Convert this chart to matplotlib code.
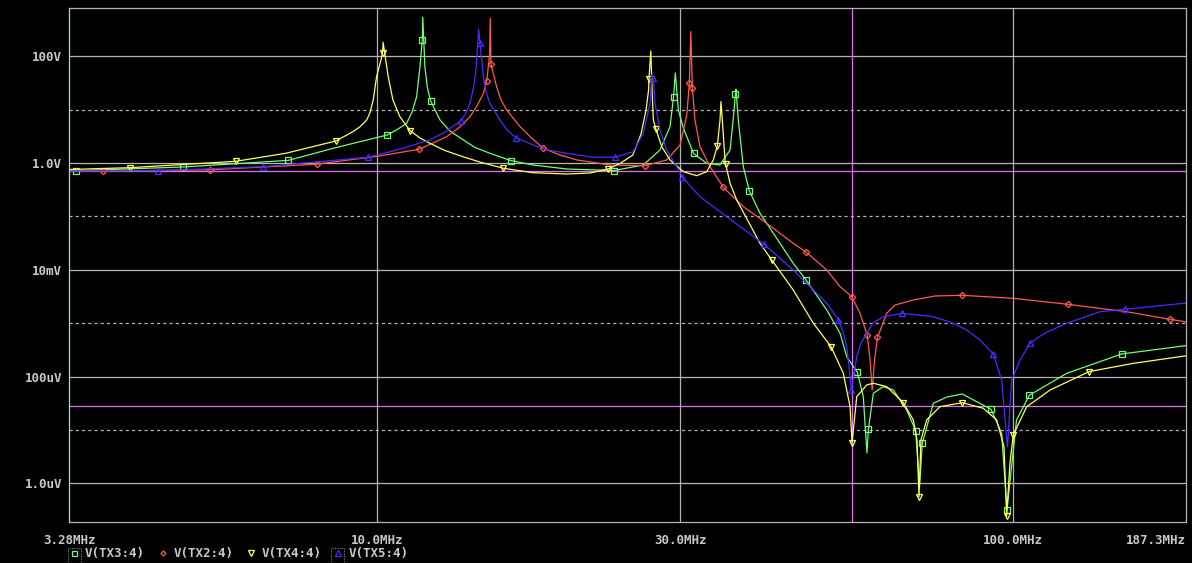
import numpy as np
import matplotlib
matplotlib.use("Agg")
import matplotlib.pyplot as plt
from matplotlib.lines import Line2D
from matplotlib.patches import Rectangle

# ---------------- data (frequency in MHz, voltage in V) ----------------
tx3_f = [3.28, 3.37, 4.96, 7.26, 8.53, 10.39, 10.80, 11.14, 11.36, 11.55, 11.69, 11.79, 11.81, 11.90,
         12.01, 12.15, 12.57, 13.03, 13.68, 14.27, 15.06, 16.24, 17.62, 19.89, 23.62, 26.24, 27.88, 28.91,
         29.28, 29.47, 29.80, 30.34, 31.48, 33.02, 34.64, 35.93, 36.36, 36.64, 36.71,
         37.02, 37.70, 38.52, 40.05, 42.03, 45.17, 47.31, 50.99, 53.52, 54.83, 56.98,
         58.21, 58.99, 59.31, 60.37, 62.60, 64.90, 68.12, 70.39, 71.36, 72.08, 75.01,
         78.82, 83.30, 92.44, 96.07, 97.95, 101.4, 106.2, 121.6, 148.4, 187.3]
tx3_v = [0.730, 0.717, 0.842, 1.12, 1.88, 3.35, 4.33, 5.54, 9.02, 17.4, 63.6, 199, 535, 63.6,
         25.4, 14.5, 6.39, 3.97, 2.70, 1.95, 1.52, 1.11, 0.917, 0.772, 0.723, 0.917, 1.75, 4.78,
         17.0, 48.5, 9.83, 4.52, 1.51, 0.987, 0.917, 1.75, 6.96, 19.6, 24.0,
         6.39, 0.852, 0.303, 0.114, 0.0483, 0.0132, 0.00644, 0.00177, 6.47e-4, 2.36e-4, 1.20e-4,
         4.21e-5, 3.71e-6, 1.04e-5, 4.87e-5, 6.47e-5, 5.61e-5, 2.37e-5, 9.58e-6, 8.57e-7, 5.63e-6, 3.16e-5,
         4.15e-5, 4.72e-5, 2.44e-5, 8.67e-6, 3.18e-7, 1.54e-5, 4.47e-5, 1.15e-4, 2.65e-4, 3.80e-4]
tx3_marks = [3.37, 4.96, 7.26, 10.39, 11.79, 12.15, 16.24, 23.62, 29.28, 31.48, 36.64,
             38.52, 47.31, 56.98, 59.31, 70.39, 72.08, 92.44, 97.95, 106.2, 148.4]

tx2_f = [3.28, 3.71, 5.47, 8.04, 10.08, 11.66, 12.88, 13.51, 14.01, 14.37, 14.71, 14.89, 15.04, 15.08,
         15.12, 15.43, 15.68, 16.00, 16.80, 17.42, 18.27, 19.41, 20.62, 23.26, 26.44, 28.57, 29.98,
         30.72, 31.01, 31.17, 31.35, 31.64, 32.23, 33.42, 35.06, 37.70, 41.03, 45.17, 47.36,
         50.99, 53.52, 55.83, 57.53, 59.06, 59.65, 60.12, 60.64, 61.28, 63.37, 65.30, 69.77,
         75.46, 83.30, 100.2, 122.0, 151.1, 176.7, 187.3]
tx2_v = [0.708, 0.708, 0.746, 0.950, 1.35, 1.81, 3.11, 4.72, 7.36, 11.7, 20.2, 34.8, 105, 513,
         70.5, 26.8, 15.1, 9.83, 4.78, 3.11, 1.88, 1.41, 1.14, 0.917, 0.890, 1.14, 2.17,
         7.92, 31.1, 288, 25.7, 6.39, 2.02, 0.852, 0.351, 0.152, 0.0743, 0.0313, 0.0213,
         0.00991, 0.00483, 0.00313, 0.00153, 5.93e-4, 2.05e-4, 5.61e-5, 2.05e-4, 5.40e-4, 0.00153, 0.00219, 0.00272,
         0.00323, 0.00333, 0.00292, 0.00226, 0.00164, 0.00118, 0.00106]
tx2_marks = [3.71, 5.47, 8.04, 11.66, 14.89, 15.12, 18.27, 26.44, 31.01, 31.35, 35.06,
             47.36, 55.83, 59.06, 61.28, 83.30, 122.0, 176.7]

tx4_f = [3.28, 4.09, 6.00, 7.19, 8.62, 9.17, 9.40, 9.64, 9.75, 9.87, 9.99, 10.15, 10.21, 10.23,
         10.42, 10.60, 10.87, 11.28, 11.69, 12.12, 12.80, 13.66, 14.53, 15.81, 17.61, 19.89, 21.64, 23.10,
         24.12, 25.27, 26.03, 26.51, 26.75, 26.79, 26.97, 27.09, 27.22, 27.48, 28.06,
         28.91, 30.34, 31.84, 33.02, 33.82, 34.31, 34.65, 34.77, 34.94, 35.28, 35.37,
         35.93, 36.81, 40.05, 41.78, 45.17, 48.58, 51.80, 54.15, 55.49, 55.89, 56.85,
         58.94, 60.37, 63.37, 67.29, 69.77, 70.71, 71.23, 71.73, 73.24, 76.85, 83.30,
         89.89, 94.35, 96.90, 97.83, 99.01, 100.2, 105.2, 114.5, 131.9, 154.8, 187.3]
tx4_v = [0.755, 0.817, 1.075, 1.52, 2.58, 3.86, 4.72, 6.39, 8.64, 15.1, 41.3, 84.9, 116, 182,
         41.3, 15.1, 7.36, 4.03, 2.94, 2.34, 1.71, 1.31, 1.04, 0.796, 0.658, 0.622, 0.650, 0.772,
         0.979, 1.41, 3.49, 9.83, 23.3, 37.4, 125, 23.3, 6.39, 4.28, 2.02,
         1.14, 0.687, 0.578, 0.687, 1.14, 2.08, 6.39, 14.1, 6.39, 1.14, 0.945,
         0.417, 0.203, 0.0313, 0.0153, 0.00419, 9.96e-4, 3.63e-4, 1.15e-4, 2.73e-5, 5.71e-6, 4.21e-5,
         6.97e-5, 7.50e-5, 6.47e-5, 3.24e-5, 1.54e-5, 6.5e-6, 5.56e-7, 6.5e-6, 1.54e-5, 2.73e-5, 3.24e-5,
         2.55e-5, 1.54e-5, 4.87e-6, 2.45e-7, 2.38e-6, 8.06e-6, 2.73e-5, 5.61e-5, 1.24e-4, 1.77e-4, 2.45e-4]
tx4_marks = [4.09, 6.00, 8.62, 10.21, 11.28, 15.81, 23.10, 26.79, 27.48, 34.31, 35.37,
             41.78, 51.80, 55.89, 67.29, 71.23, 83.30, 97.83, 100.2, 131.9]

tx5_f = [3.28, 4.52, 6.63, 9.69, 10.74, 12.12, 12.80, 13.55, 13.81, 14.01, 14.19, 14.32, 14.46, 14.53, 14.71,
         14.85, 15.06, 15.62, 16.02, 16.55, 17.62, 18.59, 19.89, 21.90, 23.68, 25.31, 26.24, 26.89, 27.05,
         27.22, 27.38, 27.88, 28.57, 29.62, 30.23, 32.23, 35.50, 40.63, 45.17, 48.58,
         50.99, 53.18, 54.10, 54.83, 55.78, 56.85, 57.74, 58.94, 60.30, 62.60, 67.05, 75.01, 79.68,
         84.64, 88.82, 93.20, 96.07, 98.13, 99.63, 102.7, 106.4, 112.4, 121.6, 137.2, 150.2, 187.3]
tx5_v = [0.708, 0.718, 0.852, 1.28, 1.75, 2.70, 3.81, 6.20, 8.64, 13.1, 25.4, 55.2, 323, 174, 41.3,
         21.4, 13.1, 6.39, 4.15, 2.98, 2.17, 1.75, 1.52, 1.28, 1.28, 1.63, 3.60, 13.1, 44.5,
         38.6, 13.1, 4.15, 1.75, 0.852, 0.540, 0.234, 0.0987, 0.0300, 0.00991, 0.00419,
         0.00236, 0.00117, 6.84e-4, 3.63e-4, 5.61e-5, 2.36e-4, 4.26e-4, 6.47e-4, 1.01e-3, 0.00132, 0.00153, 0.00132, 0.00105,
         7.46e-4, 4.84e-4, 2.65e-4, 8.63e-5, 4.81e-6, 8.63e-5, 2.05e-4, 4.20e-4, 6.55e-4, 9.96e-4, 0.00164, 0.00182, 0.00238]
tx5_marks = [4.52, 6.63, 9.69, 13.55, 14.53, 16.55, 23.68, 27.22, 30.23, 40.63, 53.18,
             55.78, 67.05, 93.20, 106.4, 150.2]

legend_labels = ["V(TX3:4)", "V(TX2:4)", "V(TX4:4)", "V(TX5:4)"]
x_ticks = [3.28, 10.0, 30.0, 100.0, 187.3]
x_tick_labels = ["3.28MHz", "10.0MHz", "30.0MHz", "100.0MHz", "187.3MHz"]
y_ticks = [100, 1.0, 1e-2, 1e-4, 1e-6]
y_tick_labels = ["100V", "1.0V", "10mV", "100uV", "1.0uV"]
y_minor_grid = [10, 0.1, 1e-3, 1e-5]
cursor_x = [55.8]
cursor_y = [0.707, 2.83e-5]

# ---------------- figure ----------------
W, H = 1192, 563
fig = plt.figure(figsize=(W / 100, H / 100), dpi=100, facecolor="black")
ax = fig.add_axes([69 / W, 1 - 522 / H, (1186 - 69) / W, (522 - 8) / H])
ax.set_facecolor("black")
ax.set_xscale("log")
ax.set_yscale("log")
ax.set_xlim(3.28, 187.3)
ax.set_ylim(1.89e-7, 799)

gridc = "#b4b4b4"
for yv in y_ticks:
    ax.axhline(yv, color=gridc, lw=0.9, zorder=1)
for yv in y_minor_grid:
    ax.axhline(yv, color=gridc, lw=0.9, ls=(0, (2.5, 2.5)), zorder=1)
for xv in x_ticks[1:4]:
    ax.axvline(xv, color=gridc, lw=0.9, zorder=1)

mag = "#e070f0"
for xv in cursor_x:
    ax.axvline(xv, color=mag, lw=0.9, zorder=1.5)
for yv in cursor_y:
    ax.axhline(yv, color=mag, lw=0.9, zorder=1.5)

series = [
    (tx3_f, tx3_v, tx3_marks, "#70ff70", "s", 4.5),
    (tx2_f, tx2_v, tx2_marks, "#ff5a4c", "D", 3.2),
    (tx4_f, tx4_v, tx4_marks, "#ffff60", "v", 5),
    (tx5_f, tx5_v, tx5_marks, "#4a2aff", "^", 5),
]
for f, v, marks, c, mk, ms in series:
    lf = np.log10(np.array(f))
    idx = sorted(set(int(np.argmin(np.abs(lf - np.log10(m)))) for m in marks))
    ax.plot(f, v, color=c, lw=0.9, marker=mk, ms=ms, mfc="none", mec=c, mew=0.9,
            markevery=idx, zorder=2)

for s in ["top", "right", "bottom"]:
    ax.spines[s].set_color(gridc)
    ax.spines[s].set_linewidth(0.9)
ax.spines["left"].set_color("#80ff80")
ax.spines["left"].set_linewidth(0.9)

txtc = "#c8c8c8"
font = dict(family="DejaVu Sans Mono", weight="bold", size=9)
ax.set_xticks(x_ticks)
ax.set_xticklabels(x_tick_labels, color=txtc, **font)
ax.set_yticks(y_ticks)
ax.set_yticklabels(y_tick_labels, color=txtc, **font)
ax.minorticks_off()
ax.tick_params(axis="both", length=0)
ax.tick_params(axis="x", pad=9)
ax.tick_params(axis="y", pad=5)
ax.get_xticklabels()[-1].set_ha("right")

# legend
leg_mx = [74, 163, 251, 338]
leg_tx = [85, 174, 262, 349]
leg_y = 553
for (f, v, marks, c, mk, ms), mx, tx, lab in zip(series, leg_mx, leg_tx, legend_labels):
    fig.add_artist(Line2D([mx / W], [1 - leg_y / H], transform=fig.transFigure,
                          marker=mk, ms=ms * 0.8, mfc="none", mec=c, mew=0.9, ls="none"))
    fig.text(tx / W, 1 - leg_y / H, lab, color=txtc, ha="left", va="center", **font)
for bx in [68, 331]:
    fig.add_artist(Rectangle((bx / W, 1 - 563 / H), 13 / W, 15 / H, transform=fig.transFigure,
                             fill=False, ec="#a0a0a0", lw=0.7, ls=(0, (1, 1.5))))

fig.savefig("out.png", dpi=100, facecolor="black")
